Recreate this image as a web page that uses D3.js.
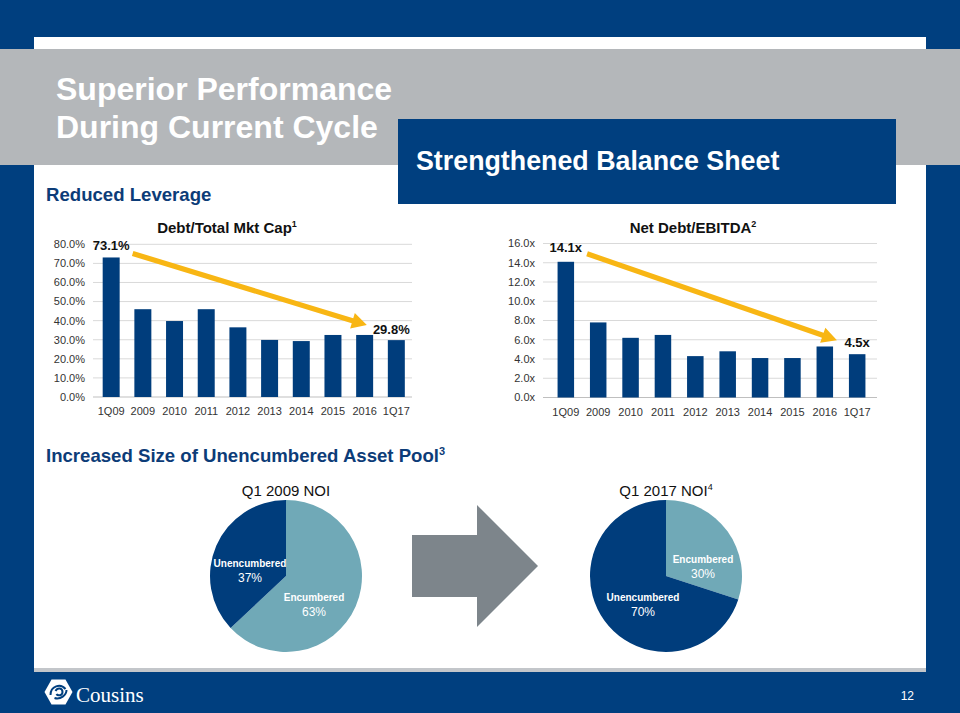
<!DOCTYPE html>
<html>
<head>
<meta charset="utf-8">
<script src="https://cdn.jsdelivr.net/npm/d3@7"></script>
<style>
  html,body{margin:0;padding:0;background:#003f7f;}
  svg{display:block;font-family:"Liberation Sans",Arial,sans-serif;}
</style>
</head>
<body>
<svg id="chart" width="960" height="713"></svg>
<script>
// ---------- data ----------
const categories = ["1Q09","2009","2010","2011","2012","2013","2014","2015","2016","1Q17"];
const debtToMktCap = [73.1, 46.0, 39.8, 46.0, 36.5, 29.9, 29.3, 32.5, 32.5, 29.8];
const netDebtToEbitda = [14.1, 7.8, 6.2, 6.5, 4.3, 4.8, 4.1, 4.1, 5.3, 4.5];
const mktCapTicks = [0,10,20,30,40,50,60,70,80];
const ebitdaTicks = [0,2,4,6,8,10,12,14,16];
const noi2009Labels = ["Encumbered","Unencumbered"];
const noi2009Values = [63, 37];
const noi2017Labels = ["Encumbered","Unencumbered"];
const noi2017Values = [30, 70];

// ---------- styles ----------
const BLUE = "#003f7f", BAR = "#003d7c", HEAD = "#0c3c78", GRAY = "#b4b7ba";
const TEAL = "#70a9b7", YELLOW = "#f8b614", ARROWGRAY = "#7d858b";

const svg = d3.select("#chart");

// background layers
svg.append("rect").attr("x",0).attr("y",0).attr("width",960).attr("height",713).attr("fill",BLUE);
svg.append("rect").attr("x",34).attr("y",37).attr("width",892).attr("height",631).attr("fill","#fff");
svg.append("rect").attr("x",34).attr("y",668).attr("width",892).attr("height",4).attr("fill","#c3c6ca");
svg.append("rect").attr("x",0).attr("y",49).attr("width",960).attr("height",116).attr("fill",GRAY);

// titles
svg.append("text").attr("x",56).attr("y",100).attr("fill","#fff").attr("font-size",32).attr("font-weight","bold").text("Superior Performance");
svg.append("text").attr("x",56).attr("y",138).attr("fill","#fff").attr("font-size",32).attr("font-weight","bold").text("During Current Cycle");
svg.append("rect").attr("x",398).attr("y",119).attr("width",498).attr("height",85).attr("fill",BLUE);
svg.append("text").attr("x",416).attr("y",170).attr("fill","#fff").attr("font-size",26.8).attr("font-weight","bold").text("Strengthened Balance Sheet");

svg.append("text").attr("x",46).attr("y",201).attr("fill",HEAD).attr("font-size",18.6).attr("font-weight","bold").text("Reduced Leverage");
const h2 = svg.append("text").attr("x",46).attr("y",462).attr("fill",HEAD).attr("font-size",18.6).attr("font-weight","bold");
h2.append("tspan").text("Increased Size of Unencumbered Asset Pool");
h2.append("tspan").attr("font-size",11).attr("dy",-7).text("3");

// ---------- bar charts ----------
function barChart(cfg){
  const g = svg.append("g");
  const x = d3.scaleBand().domain(categories).range(cfg.xRange).paddingInner(cfg.pIn).paddingOuter(cfg.pOut);
  const y = d3.scaleLinear().domain([0, cfg.ticks[cfg.ticks.length-1]]).range(cfg.yRange);
  // grid
  g.selectAll("line.grid").data(cfg.ticks).join("line")
    .attr("x1",cfg.gridX[0]).attr("x2",cfg.gridX[1])
    .attr("y1",d=>y(d)).attr("y2",d=>y(d))
    .attr("stroke",d=>d===0?"#bfbfbf":"#d9d9d9").attr("stroke-width",1);
  // y labels
  g.selectAll("text.yl").data(cfg.ticks).join("text")
    .attr("x",cfg.gridX[0]-8).attr("y",d=>y(d)).attr("dy","0.35em")
    .attr("text-anchor","end").attr("font-size",11).attr("fill","#333").text(cfg.fmt);
  // bars
  g.selectAll("rect.bar").data(cfg.values).join("rect")
    .attr("x",(d,i)=>x(categories[i])).attr("width",x.bandwidth())
    .attr("y",d=>y(d)).attr("height",d=>y(0)-y(d)).attr("fill",BAR);
  // x labels
  g.selectAll("text.xl").data(categories).join("text")
    .attr("x",d=>x(d)+x.bandwidth()/2).attr("y",cfg.yRange[0]+18)
    .attr("text-anchor","middle").attr("font-size",11).attr("fill","#333").text(d=>d);
  // title
  const t = g.append("text").attr("x",cfg.titleX).attr("y",233).attr("text-anchor","middle")
    .attr("font-size",15).attr("font-weight","bold").attr("fill","#111");
  t.append("tspan").text(cfg.title);
  t.append("tspan").attr("font-size",9).attr("dy",-6).text(cfg.sup);
  // data labels first and last
  const n = categories.length;
  [0, n-1].forEach(i=>{
    g.append("text").attr("x",x(categories[i])+x.bandwidth()/2 + (i===0?0:cfg.lastLabelDx))
      .attr("y",y(cfg.values[i]) - cfg.labelGap[i===0?0:1])
      .attr("text-anchor","middle").attr("font-size",13).attr("font-weight","bold")
      .attr("fill","#111").text(cfg.labelFmt(cfg.values[i]));
  });
  // arrow
  const x0 = x(categories[0]) + x.bandwidth() + 13, y0 = y(cfg.values[0]) + cfg.arrowStartDy;
  const x1 = x(categories[n-1]) + cfg.arrowEndDx, y1 = y(cfg.values[n-1]) + cfg.arrowEndDy;
  const ang = Math.atan2(y1-y0, x1-x0), L = Math.hypot(x1-x0,y1-y0);
  const hl = 15, hw = 8, sw = 2.6;
  const pts = [[0,-sw],[L-hl,-sw],[L-hl,-hw],[L,0],[L-hl,hw],[L-hl,sw],[0,sw]];
  g.append("polygon")
    .attr("points", pts.map(p=>p.join(",")).join(" "))
    .attr("transform",`translate(${x0},${y0}) rotate(${ang*180/Math.PI})`)
    .attr("fill",YELLOW);
}

barChart({
  values: debtToMktCap, ticks: mktCapTicks, xRange:[94,413.5], pIn:0.464, pOut:0.274,
  yRange:[397,244.3], gridX:[93,412], fmt:d=>d3.format(".1f")(d)+"%",
  title:"Debt/Total Mkt Cap", sup:"1", titleX:227,
  labelFmt:d=>d3.format(".1f")(d)+"%", labelGap:[7,6], lastLabelDx:-5,
  arrowStartDy:-4, arrowEndDx:-21, arrowEndDy:-15
});
barChart({
  values: netDebtToEbitda, ticks: ebitdaTicks, xRange:[543,880], pIn:0.49, pOut:0.45,
  yRange:[397.5,243.5], gridX:[543,877], fmt:d=>d3.format(".1f")(d)+"x",
  title:"Net Debt/EBITDA", sup:"2", titleX:693,
  labelFmt:d=>d3.format(".1f")(d)+"x", labelGap:[10,7], lastLabelDx:0,
  arrowStartDy:-8, arrowEndDx:-12, arrowEndDy:-14
});

// ---------- pies ----------
function pieChart(cfg){
  const g = svg.append("g").attr("transform",`translate(${cfg.cx},${cfg.cy})`);
  const data = cfg.labels.map((l,i)=>({label:l, value:cfg.values[i]}));
  const arcs = d3.pie().sort(null).value(d=>d.value)(data);
  const arc = d3.arc().innerRadius(0).outerRadius(76);
  g.selectAll("path").data(arcs).join("path").attr("d",arc)
    .attr("fill",d=>d.data.label==="Encumbered"?TEAL:BAR);
  arcs.forEach((a,i)=>{
    const off = cfg.labelOffsets[i];
    g.append("text").attr("x",off[0]).attr("y",off[1]).attr("text-anchor","middle")
      .attr("font-size",10).attr("font-weight","bold").attr("fill","#fff").text(a.data.label);
    g.append("text").attr("x",off[0]).attr("y",off[1]+15).attr("text-anchor","middle")
      .attr("font-size",12).attr("fill","#fff").text(a.data.value+"%");
  });
  const t = svg.append("text").attr("x",cfg.cx).attr("y",496).attr("text-anchor","middle")
    .attr("font-size",15).attr("fill","#111");
  t.append("tspan").text(cfg.title);
  if(cfg.sup) t.append("tspan").attr("font-size",9).attr("dy",-6).text(cfg.sup);
}
pieChart({cx:286,cy:576,labels:noi2009Labels,values:noi2009Values,title:"Q1 2009 NOI",sup:"",
  labelOffsets:[[28,25],[-36,-9]]});
pieChart({cx:666,cy:576,labels:noi2017Labels,values:noi2017Values,title:"Q1 2017 NOI",sup:"4",
  labelOffsets:[[37,-13],[-23,25]]});

// big gray arrow
svg.append("polygon")
  .attr("points",[[412,535],[477,535],[477,505],[538,566],[477,627],[477,597],[412,597]].map(p=>p.join(",")).join(" "))
  .attr("fill",ARROWGRAY);

// ---------- footer ----------
const logo = svg.append("g").attr("transform","translate(58.5,692)");
logo.append("polygon").attr("points","-14,0 -7,-12.5 7,-12.5 14,0 7,12.5 -7,12.5").attr("fill","#fff");
logo.append("path").attr("d","M-8,3 C-8,-6 2,-9 7,-3 M-4,6 C2,8 8,3 8,-2 M-3,-1 C-1,-5 4,-4 4,0 C4,4 -1,4 -2,2")
  .attr("fill","none").attr("stroke",BLUE).attr("stroke-width",2);
svg.append("text").attr("x",76).attr("y",702).attr("fill","#fff")
  .attr("font-family","'Liberation Serif','Times New Roman',serif").attr("font-size",21).text("Cousins");
svg.append("text").attr("x",914).attr("y",700).attr("text-anchor","end").attr("fill","#fff").attr("font-size",12).text("12");
</script>
</body>
</html>
